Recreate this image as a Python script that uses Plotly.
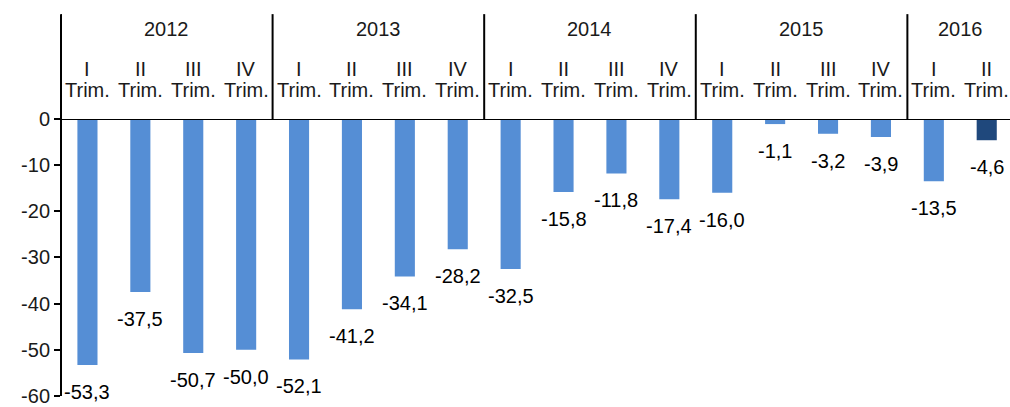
import plotly.graph_objects as go

years = ["2012", "2013", "2014", "2015", "2016"]
quarters_per_year = [4, 4, 4, 4, 2]
quarter_names = ["I", "II", "III", "IV"]
values = [-53.3, -37.5, -50.7, -50.0,
          -52.1, -41.2, -34.1, -28.2,
          -32.5, -15.8, -11.8, -17.4,
          -16.0, -1.1, -3.2, -3.9,
          -13.5, -4.6]
tick_vals = [0, -10, -20, -30, -40, -50, -60]

light = "#558ED5"
dark = "#1F487C"

cats = []
qlabels = []
for y, n in zip(years, quarters_per_year):
    for q in quarter_names[:n]:
        cats.append(f"{q} Trim. {y}")
        qlabels.append(q)
colors = [light] * (len(values) - 1) + [dark]

fig = go.Figure()
fig.add_trace(go.Bar(x=cats, y=values, marker=dict(color=colors, line=dict(width=0)),
                     width=0.38, showlegend=False, hoverinfo="skip"))

FONT = "Liberation Sans, Arial, Helvetica, sans-serif"
FS = 20
txt = "#1a1a1a"
ann = []
for c, v in zip(cats, values):
    ann.append(dict(x=c, y=v, xref="x", yref="y", text=f"{v:.1f}".replace(".", ","),
                    showarrow=False, yanchor="middle", yshift=-27,
                    font=dict(size=FS, color="#000")))

plot_h = 280.0
top = 1 + 106 / plot_h
shapes = []
start = 0
bounds = [-0.5]
for y, n in zip(years, quarters_per_year):
    mid = start + (n - 1) / 2
    ann.append(dict(x=mid, y=1 + 91 / plot_h, xref="x", yref="paper", text=y,
                    showarrow=False, yanchor="middle", font=dict(size=FS, color=txt)))
    start += n
    bounds.append(start - 0.5)
for i, q in enumerate(qlabels):
    ann.append(dict(x=i, y=1 + 51 / plot_h, xref="x", yref="paper", text=q,
                    showarrow=False, yanchor="middle", font=dict(size=FS, color=txt)))
    ann.append(dict(x=i, y=1 + 29 / plot_h, xref="x", yref="paper", text="Trim.",
                    showarrow=False, yanchor="middle", font=dict(size=FS, color=txt)))
for b in bounds[:-1]:
    shapes.append(dict(type="line", xref="x", yref="paper", x0=b, x1=b, y0=1, y1=top,
                       line=dict(color="#000", width=2)))
# y axis line extended
shapes.append(dict(type="line", xref="paper", yref="paper", x0=0, x1=0, y0=0, y1=top,
                   line=dict(color="#000", width=2)))
# zero line
shapes.append(dict(type="line", xref="paper", yref="y", x0=0, x1=1, y0=0, y1=0,
                   line=dict(color="#000", width=2)))

fig.update_layout(
    width=1010, height=407,
    margin=dict(l=61, r=0, t=119, b=8),
    plot_bgcolor="white", paper_bgcolor="white",
    font=dict(family=FONT, size=FS, color=txt),
    xaxis=dict(type="category", showticklabels=False, showgrid=False, zeroline=False,
               showline=False, ticks="", range=[-0.5, 17.44]),
    yaxis=dict(range=[-60.01, 0], tickvals=tick_vals, ticktext=[str(t) for t in tick_vals],
               showgrid=False, zeroline=False, showline=False, ticks="outside",
               ticklabeloverflow="allow",
               ticklen=6, tickwidth=2, tickcolor="#000", tickfont=dict(size=FS, color=txt)),
    annotations=ann, shapes=shapes,
)
fig.write_html("out.html", config={"displayModeBar": False},
               post_script="document.body.style.margin='0';document.body.style.overflow='hidden';")
